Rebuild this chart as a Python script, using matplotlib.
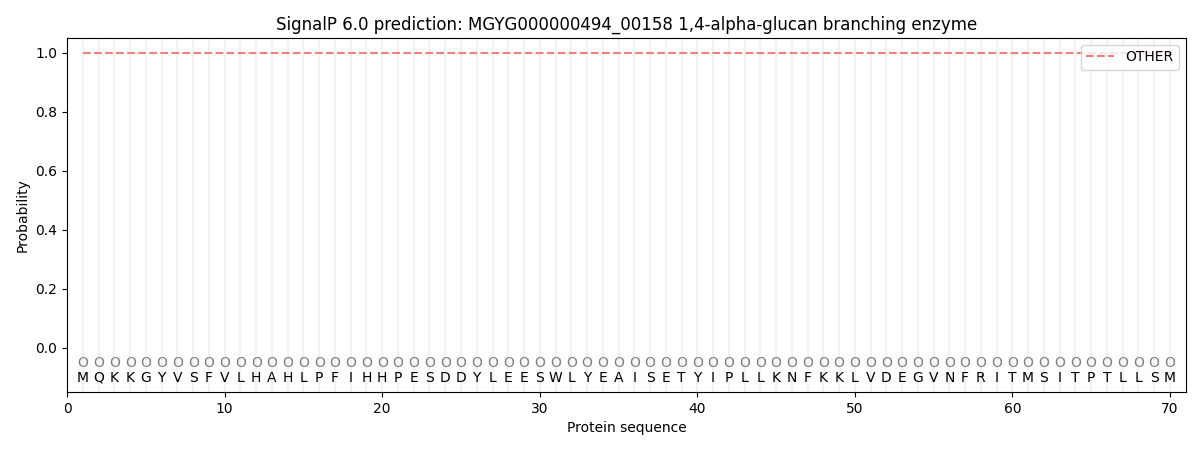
import matplotlib
matplotlib.use("Agg")
import matplotlib.pyplot as plt
import numpy as np

sequence = list("MQKKGYVSFVLHAHLPFIHHPESDDYLEESWLYEAISETYIPLLKNFKKLVDEGVNFRITMSITPTLLSM")
positions = list(range(1, len(sequence) + 1))
other_prob = [1.0] * len(sequence)
pred_labels = ["O"] * len(sequence)

fig, ax = plt.subplots(figsize=(12, 4.5), dpi=100)
for p in positions:
    ax.axvline(p, color="#f2f2f2", lw=1.5, zorder=0)
ax.plot(positions, other_prob, "--", color="#f08080", lw=1.5, label="OTHER")
for p, s, lab in zip(positions, sequence, pred_labels):
    ax.text(p, -0.047, lab, ha="center", va="center_baseline", color="gray", fontsize=10)
    ax.text(p, -0.097, s, ha="center", va="center_baseline", color="black", fontsize=10)
ax.set_xlim(0, 71)
ax.set_ylim(-0.15, 1.05)
ax.set_xlabel("Protein sequence")
ax.set_ylabel("Probability")
ax.set_title("SignalP 6.0 prediction: MGYG000000494_00158 1,4-alpha-glucan branching enzyme")
ax.legend(loc="upper right")
fig.subplots_adjust(left=0.056, right=0.988, top=0.916, bottom=0.129)
fig.savefig("out.png")
